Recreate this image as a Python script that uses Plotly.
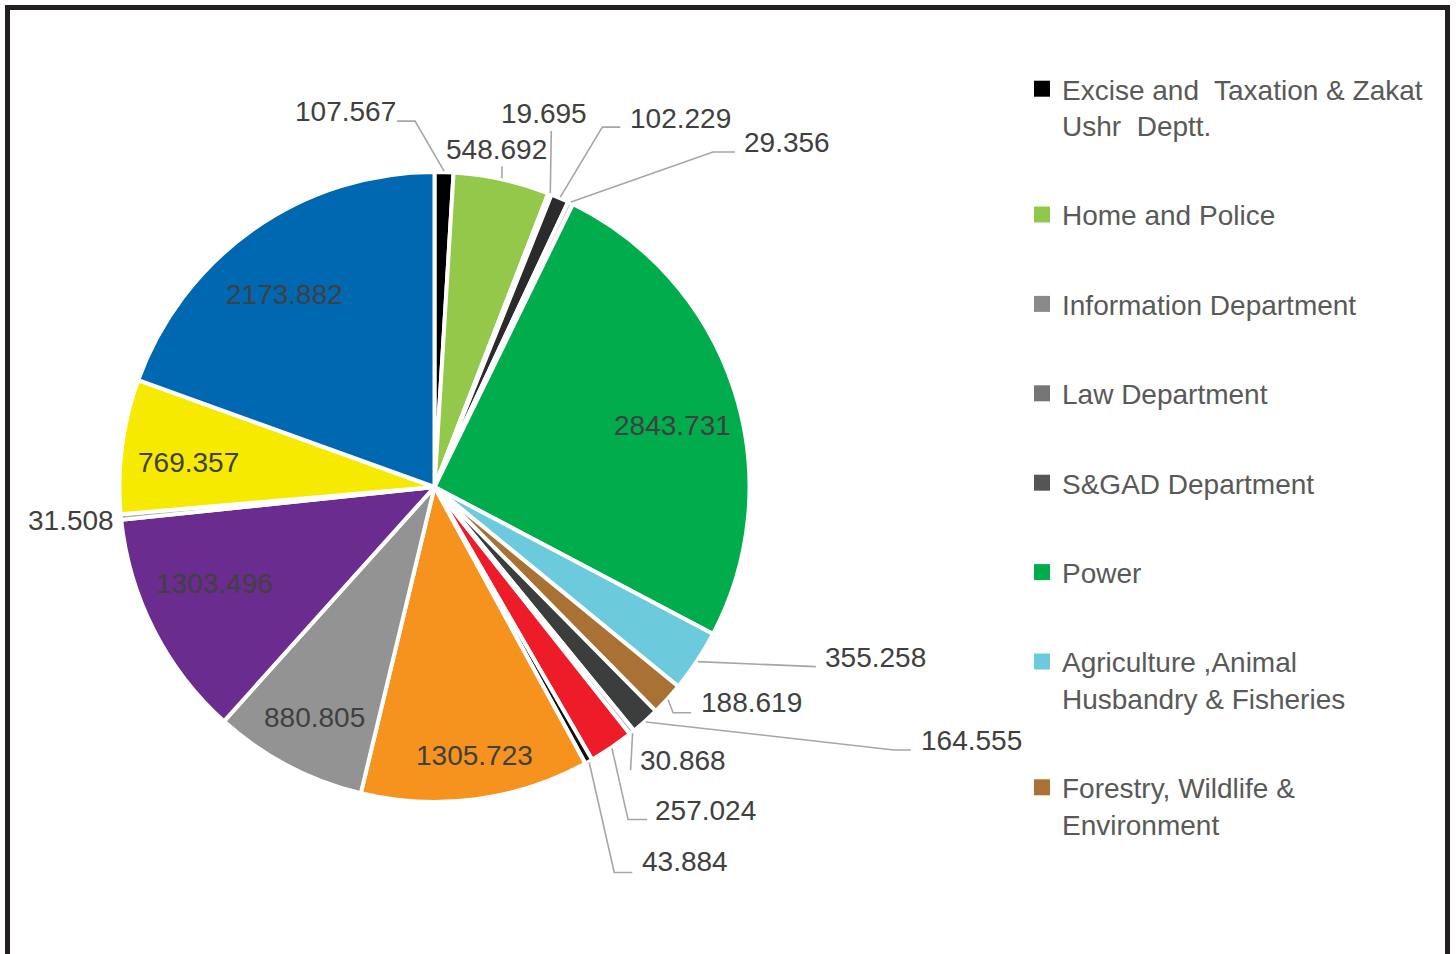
import math
import plotly.graph_objects as go

# ---------------- data ----------------
slice_names = [
    "Excise and Taxation & Zakat Ushr Deptt.", "Home and Police", "Information Department",
    "Law Department", "S&GAD Department", "Power",
    "Agriculture, Animal Husbandry & Fisheries", "Forestry, Wildlife & Environment",
    "Slice 9", "Slice 10", "Slice 11", "Slice 12", "Slice 13", "Slice 14",
    "Slice 15", "Slice 16", "Slice 17", "Slice 18",
]
values = [107.567, 548.692, 19.695, 102.229, 29.356, 2843.731, 355.258, 188.619,
          164.555, 30.868, 257.024, 43.884, 1305.723, 880.805, 1303.496, 31.508,
          769.357, 2173.882]
slice_colors = ["#000000", "#93c84a", "#c8c8c8", "#2b2b2b", "#cfcfcf", "#00ac4c",
                "#6bcbdc", "#a97234", "#3c3e3e", "#bdbdbd", "#ed1c28", "#111111",
                "#f6921e", "#939393", "#6b2c90", "#b0b0b0", "#f6ea00", "#0067b1"]

legend_names = [
    "Excise and\u00a0 Taxation & Zakat<br>Ushr\u00a0 Deptt.",
    "Home and Police",
    "Information Department",
    "Law Department",
    "S&GAD Department",
    "Power",
    "Agriculture ,Animal<br>Husbandry & Fisheries",
    "Forestry, Wildlife &<br>Environment",
]
legend_colors = ["#000000", "#92c84a", "#8a8a8c", "#767676", "#555555", "#00ac4c",
                 "#6ccadc", "#a97234"]

# ---------------- layout / style ----------------
W, H = 1456, 954
CX, CY, R = 434.5, 487.0, 315.0
FONT = "Liberation Sans, Arial, sans-serif"
LABEL_COLOR = "#404040"
LEADER_COLOR = "#a6a6a6"

# label placement per slice (layout only)
#  inside : ("in", radius fraction, angle nudge in degrees)
#  outside: ("out", elbow dx, elbow dy, tail, text dx, text dy, xanchor)
label_style = [
    ("out", -29, -50, -18, 1, -10, "right"),
    ("out", 0, -12, 0, -5, -17, "center"),
    ("out", 1, -62, 0, -7.5, -17, "center"),
    ("out", 42, -70, 18, 8, -9, "left"),
    ("out", 142, -50, 22, 7.5, -9, "left"),
    ("in", 0.782, 3.5),
    ("out", 118, 5, 0, 7, -9, "left"),
    ("out", 5, 13, 18, 8, -10, "left"),
    ("out", 248, 28, 17, 8, -9, "left"),
    ("out", -2, 37, 0, 7, -10, "left"),
    ("out", 16, 71, 19, 6, -9, "left"),
    ("out", 25, 110, 18, 8, -11, "left"),
    ("in", 0.863, -0.85),
    ("in", 0.826, -0.3),
    ("in", 0.762, 3.2),
    ("none", -5, 3, "right"),
    ("in", 0.786, -1.8),
    ("in", 0.775, -2.8),
]


def px(x):
    return x / W


def py(y):
    return 1 - y / H


def polar(angle_deg, r):
    a = math.radians(angle_deg)
    return CX + r * math.sin(a), CY - r * math.cos(a)


fig = go.Figure()

fig.add_trace(go.Pie(
    labels=slice_names,
    values=values,
    sort=False,
    direction="clockwise",
    rotation=0,
    textinfo="none",
    hoverinfo="label+value",
    showlegend=False,
    marker=dict(colors=slice_colors, line=dict(color="#ffffff", width=4)),
    domain=dict(x=[px(CX - R), px(CX + R)], y=[py(CY + R), py(CY - R)]),
))

# legend via marker-only traces
for name, col in zip(legend_names, legend_colors):
    fig.add_trace(go.Scatter(
        x=[None], y=[None], mode="markers", name=name, legendgroup=name,
        marker=dict(symbol="square", size=16, color=col),
        showlegend=True, hoverinfo="skip",
    ))

annotations = []
shapes = []
total = sum(values)
cum = 0.0
for v, st in zip(values, label_style):
    a0 = cum / total * 360.0
    a1 = (cum + v) / total * 360.0
    cum += v
    mid = (a0 + a1) / 2.0
    text = f"{v:.3f}"
    if st[0] == "in":
        x, y = polar(mid + st[2], R * st[1])
        annotations.append(dict(x=px(x), y=py(y), xref="paper", yref="paper",
                                text=text, showarrow=False, xanchor="center",
                                yanchor="middle",
                                font=dict(family=FONT, size=28, color=LABEL_COLOR)))
    elif st[0] == "out":
        _, dx, dy, tail, tdx, tdy, xa = st
        rx, ry = polar(mid, R + 1)
        ex, ey = rx + dx, ry + dy
        tx, ty = ex + tail, ey
        path = f"M {px(rx)},{py(ry)} L {px(ex)},{py(ey)}"
        if tail:
            path += f" L {px(tx)},{py(ty)}"
        shapes.append(dict(type="path", path=path, xref="paper", yref="paper",
                           line=dict(color=LEADER_COLOR, width=1.6)))
        annotations.append(dict(x=px(tx + tdx), y=py(ty + tdy), xref="paper",
                                yref="paper", text=text, showarrow=False,
                                xanchor=xa, yanchor="middle",
                                font=dict(family=FONT, size=28, color=LABEL_COLOR)))
    else:
        _, tdx, tdy, xa = st
        rx, ry = polar(mid, R)
        annotations.append(dict(x=px(rx + tdx), y=py(ry + tdy), xref="paper",
                                yref="paper", text=text, showarrow=False,
                                xanchor=xa, yanchor="middle",
                                font=dict(family=FONT, size=28, color=LABEL_COLOR)))

# outer frame
shapes.append(dict(type="rect", xref="paper", yref="paper",
                   x0=px(7.5), x1=px(1447.5), y0=py(7.5), y1=-0.05,
                   line=dict(color="#231f20", width=5)))

fig.update_layout(
    width=W, height=H,
    margin=dict(l=0, r=0, t=0, b=0),
    paper_bgcolor="#ffffff", plot_bgcolor="#ffffff",
    xaxis=dict(visible=False), yaxis=dict(visible=False),
    annotations=annotations, shapes=shapes,
    showlegend=True,
    legend=dict(x=px(1022), y=py(64), xanchor="left", yanchor="top",
                font=dict(family=FONT, size=28, color="#595959"),
                tracegroupgap=50, itemsizing="trace", valign="top",
                bgcolor="rgba(0,0,0,0)", borderwidth=0),
)

fig.write_html("out.html",
               config={"displayModeBar": False},
               post_script="document.body.style.margin='0';document.body.style.overflow='hidden';")
